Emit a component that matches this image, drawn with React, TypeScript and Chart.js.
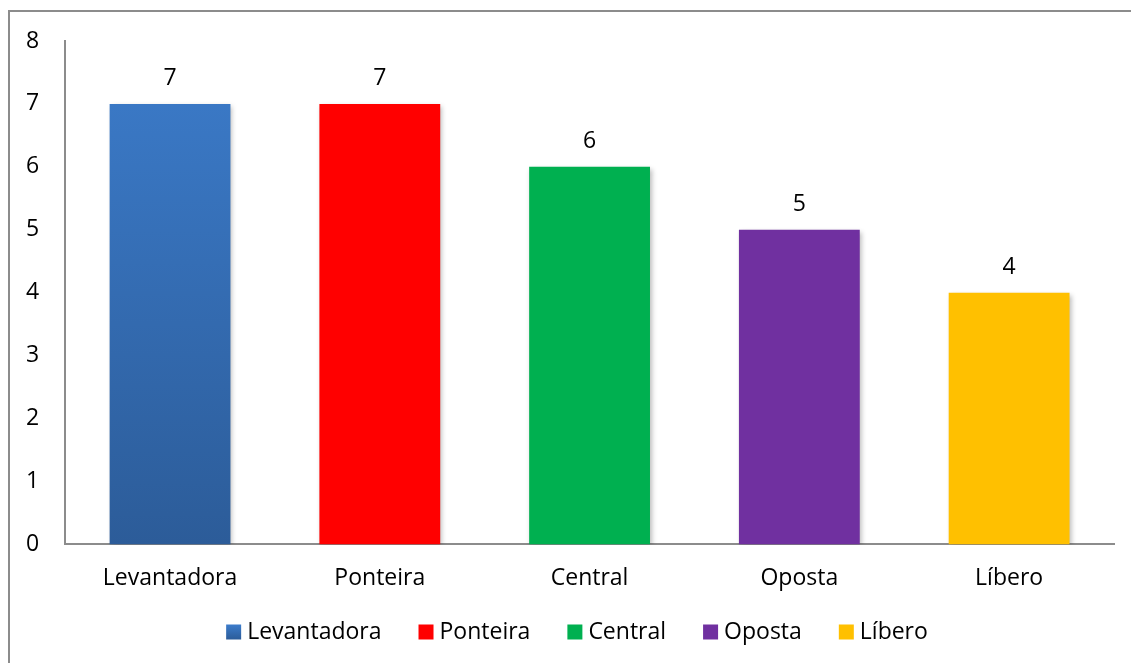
import React, { useEffect, useRef } from "react";
import { Chart, registerables } from "chart.js";

Chart.register(...registerables);

const categories = ["Levantadora", "Ponteira", "Central", "Oposta", "Líbero"];
const values = [7, 7, 6, 5, 4];
const colors = ["#3A7AC8", "#FF0000", "#00B050", "#7030A0", "#FFC000"];
const yTicks = [0, 1, 2, 3, 4, 5, 6, 7, 8];

const FONT = "'Open Sans', 'Noto Sans', sans-serif";
const FONT_SIZE = 23;

const framePlugin = {
  id: "frame",
  beforeDraw(chart: any) {
    const ctx = chart.ctx;
    ctx.save();
    ctx.fillStyle = "#ffffff";
    ctx.fillRect(0, 0, chart.width, chart.height);
    ctx.strokeStyle = "#8c8c8c";
    ctx.lineWidth = 2;
    ctx.strokeRect(9, 11, 1400, 900);
    ctx.restore();
  },
};

const shadowPlugin = {
  id: "barShadow",
  beforeDatasetsDraw(chart: any) {
    const ctx = chart.ctx;
    ctx.save();
    ctx.shadowColor = "rgba(0,0,0,0.28)";
    ctx.shadowBlur = 5;
    ctx.shadowOffsetX = 2;
    ctx.shadowOffsetY = 2;
  },
  afterDatasetsDraw(chart: any) {
    chart.ctx.restore();
  },
};

const valueLabelPlugin = {
  id: "valueLabels",
  afterDatasetsDraw(chart: any) {
    const ctx = chart.ctx;
    ctx.save();
    ctx.font = `${FONT_SIZE}px ${FONT}`;
    ctx.fillStyle = "#000000";
    ctx.textAlign = "center";
    ctx.textBaseline = "middle";
    const meta = chart.getDatasetMeta(0);
    meta.data.forEach((bar: any, i: number) => {
      ctx.fillText(String(values[i]), bar.x, bar.y - 25);
    });
    ctx.restore();
  },
};

const legendPlugin = {
  id: "customLegend",
  afterDraw(chart: any) {
    const ctx = chart.ctx;
    ctx.save();
    ctx.font = `${FONT_SIZE}px ${FONT}`;
    ctx.textBaseline = "middle";
    ctx.textAlign = "left";
    const box = 15;
    const gapText = 6;
    const gapItem = 37;
    const widths = categories.map((c) => box + gapText + ctx.measureText(c).width);
    const total = widths.reduce((a, b) => a + b, 0) + gapItem * (categories.length - 1);
    const centerX = 577;
    const y = 632;
    let x = centerX - total / 2;
    categories.forEach((c, i) => {
      if (i === 0) {
        const g = ctx.createLinearGradient(0, y - box / 2, 0, y + box / 2);
        g.addColorStop(0, "#3C7CCB");
        g.addColorStop(1, "#2C5C99");
        ctx.fillStyle = g;
      } else {
        ctx.fillStyle = colors[i];
      }
      ctx.fillRect(x, y - box / 2, box, box);
      ctx.fillStyle = "#000000";
      ctx.fillText(c, x + box + gapText, y);
      x += widths[i] + gapItem;
    });
    ctx.restore();
  },
};

export default function App() {
  const canvasRef = useRef<HTMLCanvasElement | null>(null);

  useEffect(() => {
    document.body.style.margin = "0";
    const canvas = canvasRef.current;
    if (!canvas) return;
    const chart = new Chart(canvas, {
      type: "bar",
      data: {
        labels: categories,
        datasets: [
          {
            data: values,
            backgroundColor: (c: any) => {
              const i = c.dataIndex;
              if (i === 0) {
                const area = c.chart.chartArea;
                if (!area) return colors[0];
                const g = c.chart.ctx.createLinearGradient(0, area.top, 0, area.bottom);
                g.addColorStop(0, "#3C7CCB");
                g.addColorStop(1, "#2C5C99");
                return g;
              }
              return colors[i];
            },
            borderWidth: 0,
            barPercentage: 0.576,
            categoryPercentage: 1,
          },
        ],
      },
      options: {
        animation: false,
        responsive: false,
        maintainAspectRatio: false,
        layout: { autoPadding: false, padding: { left: 0, right: 17, top: 41, bottom: 51 } },
        plugins: {
          tooltip: { enabled: false },
          legend: { display: false },
        },
        scales: {
          x: {
            grid: { display: false, drawTicks: false },
            border: { display: true, color: "#8c8c8c", width: 2 },
            ticks: { font: { family: FONT, size: FONT_SIZE }, color: "#000000", padding: 20, maxRotation: 0 },
          },
          y: {
            min: 0,
            max: 8,
            afterBuildTicks: (axis: any) => {
              axis.ticks = yTicks.map((v) => ({ value: v }));
            },
            grid: { display: false, drawTicks: false },
            border: { display: true, color: "#8c8c8c", width: 2 },
            ticks: { font: { family: FONT, size: FONT_SIZE }, color: "#000000", padding: 26, stepSize: 1 },
          },
        },
      },
      plugins: [framePlugin, shadowPlugin, valueLabelPlugin, legendPlugin],
    });
    return () => chart.destroy();
  }, []);

  return (
    <div style={{ position: "absolute", left: 0, top: 0, width: 1131, height: 663 }}>
      <canvas ref={canvasRef} width={1131} height={663} style={{ width: 1131, height: 663 }} />
    </div>
  );
}
